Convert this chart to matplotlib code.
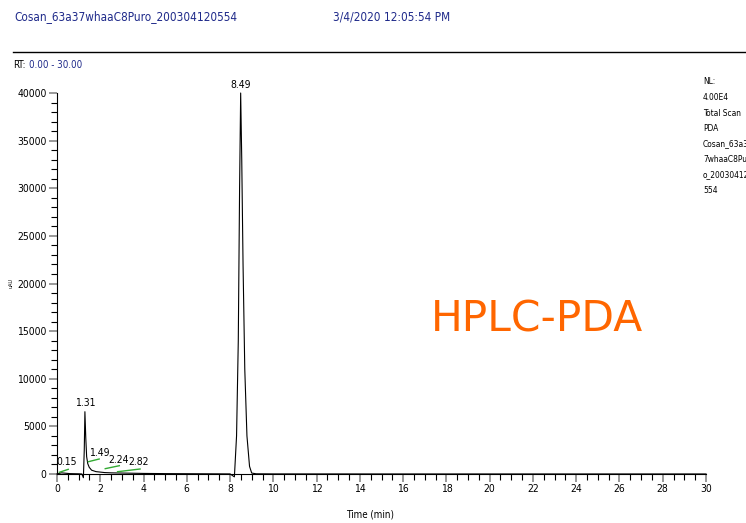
import matplotlib
matplotlib.use("Agg")
import matplotlib.pyplot as plt
from matplotlib.ticker import MultipleLocator

NARROW = dict(family="DejaVu Sans", stretch="condensed")

# Chromatogram trace (time in min, intensity)
trace_t = [0.0, 0.1, 0.2, 0.4, 0.6, 0.8, 1.0, 1.15, 1.22, 1.26, 1.29, 1.33, 1.37, 1.42,
           1.49, 1.6, 1.8, 2.0, 2.2, 2.5, 3.0, 3.5, 4.0, 5.0, 6.0, 7.0, 8.0, 8.2,
           8.3, 8.38, 8.44, 8.49, 8.54, 8.6, 8.68, 8.78, 8.9, 9.0, 9.2, 10.0, 15.0, 20.0, 25.0, 30.0]
trace_y = [0, 60, 120, 80, 40, 30, 20, 0, -390, 2500, 6540, 3800, 1820, 1100,
           700, 400, 250, 200, 150, 120, 100, 80, 60, 40, 30, 20, 10, -300,
           4000, 14000, 30000, 40000, 33000, 22000, 11000, 4000, 800, 100, 20, 10, 5, 5, 5, 5]

# Peak labels (retention time text and where the instrument printed it)
peak_rt = [0.15, 1.31, 1.49, 2.24, 2.82, 8.49]
label_t = [0.45, 1.29, 1.94, 2.84, 3.79, 8.49]
label_y = [700, 6900, 1650, 945, 700, 40300]

# Green baseline segments: (t0, y0, t1, y1)
base_t0 = [0.11, 1.45, 2.23, 2.80]
base_y0 = [180, 1290, 560, 240]
base_t1 = [0.52, 1.95, 2.88, 3.84]
base_y1 = [490, 1575, 870, 525]

header_left = "Cosan_63a37whaaC8Puro_200304120554"
header_right = "3/4/2020 12:05:54 PM"
info_lines = ["NL:", "4.00E4", "Total Scan", "PDA", "Cosan_63a3", "7whaaC8Pur", "o_20030412", "554"]

navy = "#1f2a8a"
fig = plt.figure(figsize=(7.46, 5.23), dpi=100)
ax = fig.add_axes([57/746, 49/523, 649/746, 381/523])

ax.plot(trace_t, trace_y, color="black", lw=0.8, clip_on=False)
for a, b, c, d in zip(base_t0, base_y0, base_t1, base_y1):
    ax.plot([a, c], [b, d], color="#33aa33", lw=1.0)
for t, lx, ly in zip(peak_rt, label_t, label_y):
    ax.text(lx, ly, f"{t:.2f}", ha="center", va="bottom", fontsize=7.5, **NARROW)

ax.set_xlim(0, 30)
ax.set_ylim(0, 40000)
ax.spines["top"].set_visible(False)
ax.spines["right"].set_visible(False)
ax.xaxis.set_major_locator(MultipleLocator(2))
ax.xaxis.set_minor_locator(MultipleLocator(0.5))
ax.yaxis.set_major_locator(MultipleLocator(5000))
ax.yaxis.set_minor_locator(MultipleLocator(1000))
ax.tick_params(axis="both", which="major", length=6, color="#888888", width=1.2, labelsize=7.5, pad=1.5)
ax.tick_params(axis="both", which="minor", length=4, color="black", width=0.8)
for lab in ax.get_xticklabels() + ax.get_yticklabels():
    lab.set_family("DejaVu Sans")
    lab.set_stretch("condensed")
ax.set_xlabel("Time (min)", fontsize=7, **NARROW)
ax.xaxis.set_label_coords(0.483, -0.094)

fig.text(14/746, 1 - 17/523, header_left, color=navy, fontsize=8.5, va="center", **NARROW)
fig.text(333/746, 1 - 17/523, header_right, color=navy, fontsize=8.5, va="center", **NARROW)
fig.add_artist(plt.Line2D([13/746, 1], [1 - 52/523, 1 - 52/523], color="black", lw=1.0))
fig.text(13/746, 1 - 65/523, "RT:", color="black", fontsize=7, va="center", **NARROW)
fig.text(29/746, 1 - 65/523, "0.00 - 30.00", color=navy, fontsize=7, va="center", **NARROW)
for i, line in enumerate(info_lines):
    fig.text(703/746, 1 - (82 + i * 15.5)/523, line, fontsize=6, va="center", **NARROW)
fig.text(11/746, 1 - 283/523, "uAU", rotation=90, fontsize=4, va="center", ha="center", **NARROW)
fig.text(537/746, 1 - 319/523, "HPLC-PDA", color="#ff6600", fontsize=30.5, family="DejaVu Sans",
         va="center", ha="center")

fig.savefig("out.png", dpi=100)
